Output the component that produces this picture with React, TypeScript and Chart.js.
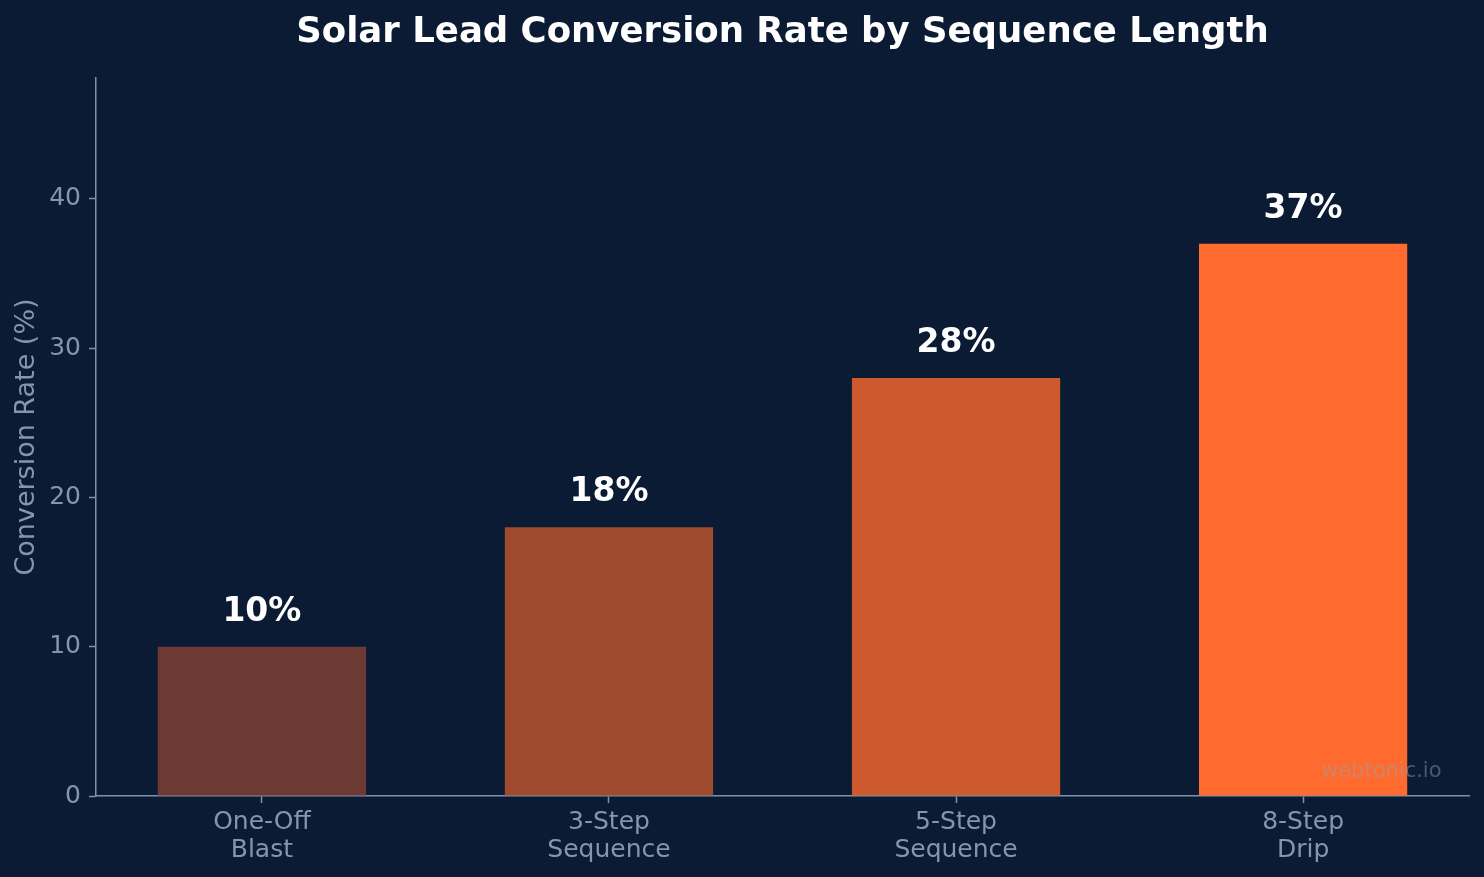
import React, { useEffect, useRef } from "react";
import { Chart, registerables } from "chart.js";

Chart.register(...registerables);

// Sequence categories (multi-line tick labels) and their conversion rates
const categoryLabels: string[][] = [
  ["One-Off", "Blast"],
  ["3-Step", "Sequence"],
  ["5-Step", "Sequence"],
  ["8-Step", "Drip"],
];
const conversionRates: number[] = [10, 18, 28, 37];
const barColors: string[] = ["#6c3a32", "#9e4b2f", "#cd5a2e", "#ff6b2e"];
const yTickStep = 10;

const TITLE = "Solar Lead Conversion Rate by Sequence Length";
const Y_TITLE = "Conversion Rate (%)";
const WATERMARK = "webtonic.io";

const FONT = "'DejaVu Sans', 'Noto Sans', sans-serif";
const BG = "#0b1b33";
const AXIS = "#8391a8";
const TICK_TEXT = "#8894aa";

const overlayPlugin = {
  id: "overlay",
  afterDatasetsDraw(chart: any) {
    const { ctx, chartArea } = chart;
    const meta = chart.getDatasetMeta(0);
    ctx.save();
    // value labels above each bar
    ctx.fillStyle = "#ffffff";
    ctx.font = `bold 33px ${FONT}`;
    ctx.textAlign = "center";
    ctx.textBaseline = "alphabetic";
    meta.data.forEach((bar: any, i: number) => {
      ctx.fillText(`${conversionRates[i]}%`, bar.x, bar.y - 26);
    });
    // watermark in the lower-right corner of the plot
    ctx.font = `21px ${FONT}`;
    ctx.textAlign = "right";
    ctx.fillStyle = "rgba(150, 162, 182, 0.45)";
    const wx = chartArea.left + 0.98 * (chartArea.right - chartArea.left);
    const wy = chartArea.bottom - 0.02 * (chartArea.bottom - chartArea.top) - 5;
    ctx.fillText(WATERMARK, wx, wy);
    // chart title
    ctx.font = `bold 35.5px ${FONT}`;
    ctx.textAlign = "center";
    ctx.fillStyle = "#ffffff";
    ctx.fillText(TITLE, (chartArea.left + chartArea.right) / 2, 42);
    ctx.restore();
  },
};

export default function App() {
  const canvasRef = useRef<HTMLCanvasElement | null>(null);

  useEffect(() => {
    document.body.style.margin = "0";
    document.body.style.background = BG;
    const canvas = canvasRef.current;
    if (!canvas) return;
    Chart.defaults.font.family = FONT;

    const chart = new Chart(canvas, {
      type: "bar",
      data: {
        datasets: [
          {
            data: conversionRates.map((v, i) => ({ x: i, y: v })),
            backgroundColor: barColors,
            borderWidth: 0,
            categoryPercentage: 1,
            barPercentage: 0.6,
          },
        ],
      },
      options: {
        responsive: false,
        animation: false,
        devicePixelRatio: 1,
        layout: { padding: { top: 78, right: 15, left: 0, bottom: 0 } },
        plugins: {
          legend: { display: false },
          tooltip: { enabled: false },
          title: { display: false },
        },
        scales: {
          x: {
            type: "linear",
            min: -0.478,
            max: categoryLabels.length - 1 + 0.478,
            offset: false,
            grid: {
              display: true,
              offset: false,
              drawOnChartArea: false,
              drawTicks: true,
              tickLength: 7,
              tickColor: AXIS,
              tickWidth: 1.5,
            },
            border: { display: true, color: AXIS, width: 1.5 },
            ticks: {
              color: TICK_TEXT,
              font: { family: FONT, size: 25, lineHeight: 1.12 },
              padding: 5,
              autoSkip: false,
              maxRotation: 0,
              includeBounds: false,
              callback: (v: any) => categoryLabels[v as number] ?? "",
            },
            afterBuildTicks: (s: any) => {
              s.ticks = categoryLabels.map((_, i) => ({ value: i }));
            },
            afterFit: (s: any) => {
              s.height = 81;
            },
          } as any,
          y: {
            min: 0,
            max: 48.1,
            grid: {
              display: true,
              drawOnChartArea: false,
              drawTicks: true,
              tickLength: 7,
              tickColor: AXIS,
              tickWidth: 1.5,
            },
            border: { display: true, color: AXIS, width: 1.5 },
            ticks: {
              color: TICK_TEXT,
              font: { family: FONT, size: 25 },
              padding: 8,
              stepSize: yTickStep,
              includeBounds: false,
            },
            title: {
              display: true,
              text: Y_TITLE,
              color: TICK_TEXT,
              font: { family: FONT, size: 27 },
              padding: { top: 11, bottom: 0 },
            },
            afterFit: (s: any) => {
              s.width = 96;
            },
          } as any,
        },
      },
      plugins: [overlayPlugin],
    });

    return () => chart.destroy();
  }, []);

  return (
    <div
      style={{
        position: "fixed",
        left: 0,
        top: 0,
        width: 1484,
        height: 877,
        background: BG,
      }}
    >
      <canvas
        ref={canvasRef}
        width={1484}
        height={877}
        style={{ display: "block", width: 1484, height: 877 }}
      />
    </div>
  );
}
